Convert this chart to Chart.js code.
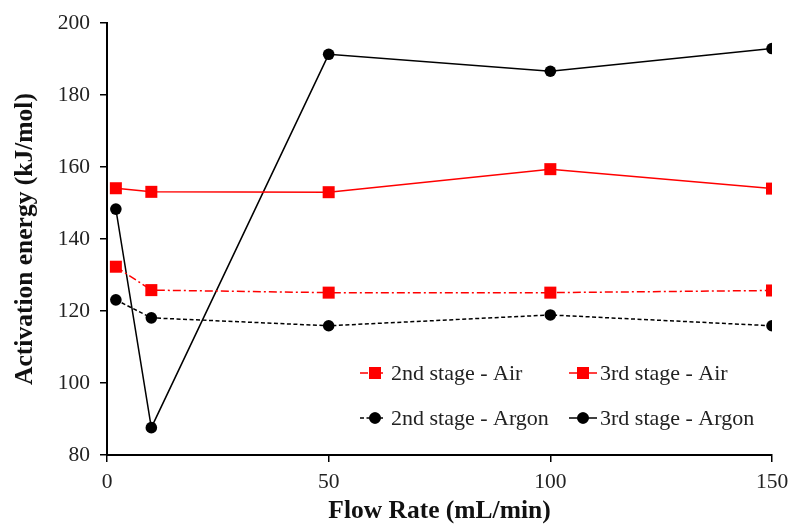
<!DOCTYPE html>
<html>
<head>
<meta charset="utf-8">
<script src="https://cdn.jsdelivr.net/npm/chart.js@4.4.0/dist/chart.umd.min.js"></script>
<style>
html,body{margin:0;padding:0;background:#fff;}
#wrap{width:790px;height:524px;}
</style>
</head>
<body>
<div id="wrap"><canvas id="c" width="790" height="524"></canvas></div>
<script>
const flowRates = [2, 10, 50, 100, 150];
const air2nd = [132.3, 125.8, 125.1, 125.1, 125.7];
const air3rd = [154.1, 153.1, 153.0, 159.4, 154.0];
const argon2nd = [123.1, 118.1, 115.9, 118.9, 115.9];
const argon3rd = [148.3, 87.6, 191.3, 186.6, 192.9];
const seriesLabels = ['2nd stage - Air', '3rd stage - Air', '2nd stage - Argon', '3rd stage - Argon'];
const xTitle = 'Flow Rate (mL/min)';
const yTitle = 'Activation energy (kJ/mol)';

const toPts = arr => arr.map((v, i) => ({x: flowRates[i], y: v}));
const RED = '#ff0000';
const serif = "'Liberation Serif', 'Times New Roman', serif";

const datasets = [
  {label: seriesLabels[0], data: toPts(air2nd), borderColor: RED, backgroundColor: RED, borderWidth: 1.5, borderDash: [8, 3, 2, 3], pointStyle: 'rect', pointRadius: 8.5, pointBorderWidth: 0},
  {label: seriesLabels[1], data: toPts(air3rd), borderColor: RED, backgroundColor: RED, borderWidth: 1.5, pointStyle: 'rect', pointRadius: 8.5, pointBorderWidth: 0},
  {label: seriesLabels[2], data: toPts(argon2nd), borderColor: '#000', backgroundColor: '#000', borderWidth: 1.5, borderDash: [4, 2.5], pointStyle: 'circle', pointRadius: 5.8, pointBorderWidth: 0},
  {label: seriesLabels[3], data: toPts(argon3rd), borderColor: '#000', backgroundColor: '#000', borderWidth: 1.5, pointStyle: 'circle', pointRadius: 5.8, pointBorderWidth: 0}
];

const legendPlugin = {
  id: 'insideLegend',
  afterDraw(chart) {
    const ctx = chart.ctx;
    const cols = [{x0: 360, x1: 383, text: 391}, {x0: 569, x1: 597, text: 600}];
    const rows = [373, 418];
    ctx.save();
    chart.data.datasets.forEach((ds, i) => {
      const c = cols[i % 2], y = rows[Math.floor(i / 2)];
      ctx.strokeStyle = ds.borderColor;
      ctx.lineWidth = ds.borderWidth;
      ctx.setLineDash(ds.borderDash || []);
      ctx.beginPath();
      ctx.moveTo(c.x0, y);
      ctx.lineTo(c.x1, y);
      ctx.stroke();
      ctx.setLineDash([]);
      const mx = (i % 2 === 0) ? c.x0 + 15 : (c.x0 + c.x1) / 2;
      Chart.helpers.drawPoint(ctx, {pointStyle: ds.pointStyle, radius: ds.pointStyle === 'rect' ? 8.5 : 5.8, rotation: 0, borderWidth: 0}, mx, y);
      ctx.fillStyle = ds.backgroundColor;
      ctx.fill();
      ctx.fillStyle = '#222';
      ctx.font = '22px ' + serif;
      ctx.textBaseline = 'middle';
      ctx.textAlign = 'left';
      ctx.fillText(ds.label, c.text, y + 1);
    });
    ctx.restore();
  }
};

new Chart(document.getElementById('c'), {
  type: 'line',
  data: {datasets},
  plugins: [legendPlugin],
  options: {
    responsive: false,
    animation: false,
    devicePixelRatio: 1,
    layout: {padding: {top: 23, right: 18, left: 0, bottom: 0}},
    plugins: {legend: {display: false}, tooltip: {enabled: false}},
    scales: {
      x: {
        type: 'linear', min: 0, max: 150,
        afterFit(s) { s.height = 69; s.paddingRight = 0; s.paddingLeft = 0; },
        ticks: {stepSize: 50, color: '#222', font: {family: serif, size: 21.5}, padding: 7, maxRotation: 0},
        grid: {display: true, drawOnChartArea: false, drawTicks: true, tickLength: 7, color: '#000', tickColor: '#000', tickWidth: 1.5, lineWidth: 1.5},
        border: {display: true, color: '#000', width: 2},
        title: {display: true, text: xTitle, color: '#111', font: {family: serif, size: 25.5, weight: 'bold'}, padding: {top: 0, bottom: -3}}
      },
      y: {
        min: 80, max: 200,
        afterFit(s) { s.width = 107; s.paddingTop = 0; s.paddingBottom = 0; },
        ticks: {stepSize: 20, color: '#222', font: {family: serif, size: 21.5}, padding: 10},
        grid: {display: true, drawOnChartArea: false, drawTicks: true, tickLength: 7, color: '#000', tickColor: '#000', tickWidth: 1.5, lineWidth: 1.5},
        border: {display: true, color: '#000', width: 2},
        title: {display: true, text: yTitle, color: '#111', font: {family: serif, size: 25.5, weight: 'bold'}, padding: {top: 10, bottom: 0}}
      }
    }
  }
});
</script>
</body>
</html>
